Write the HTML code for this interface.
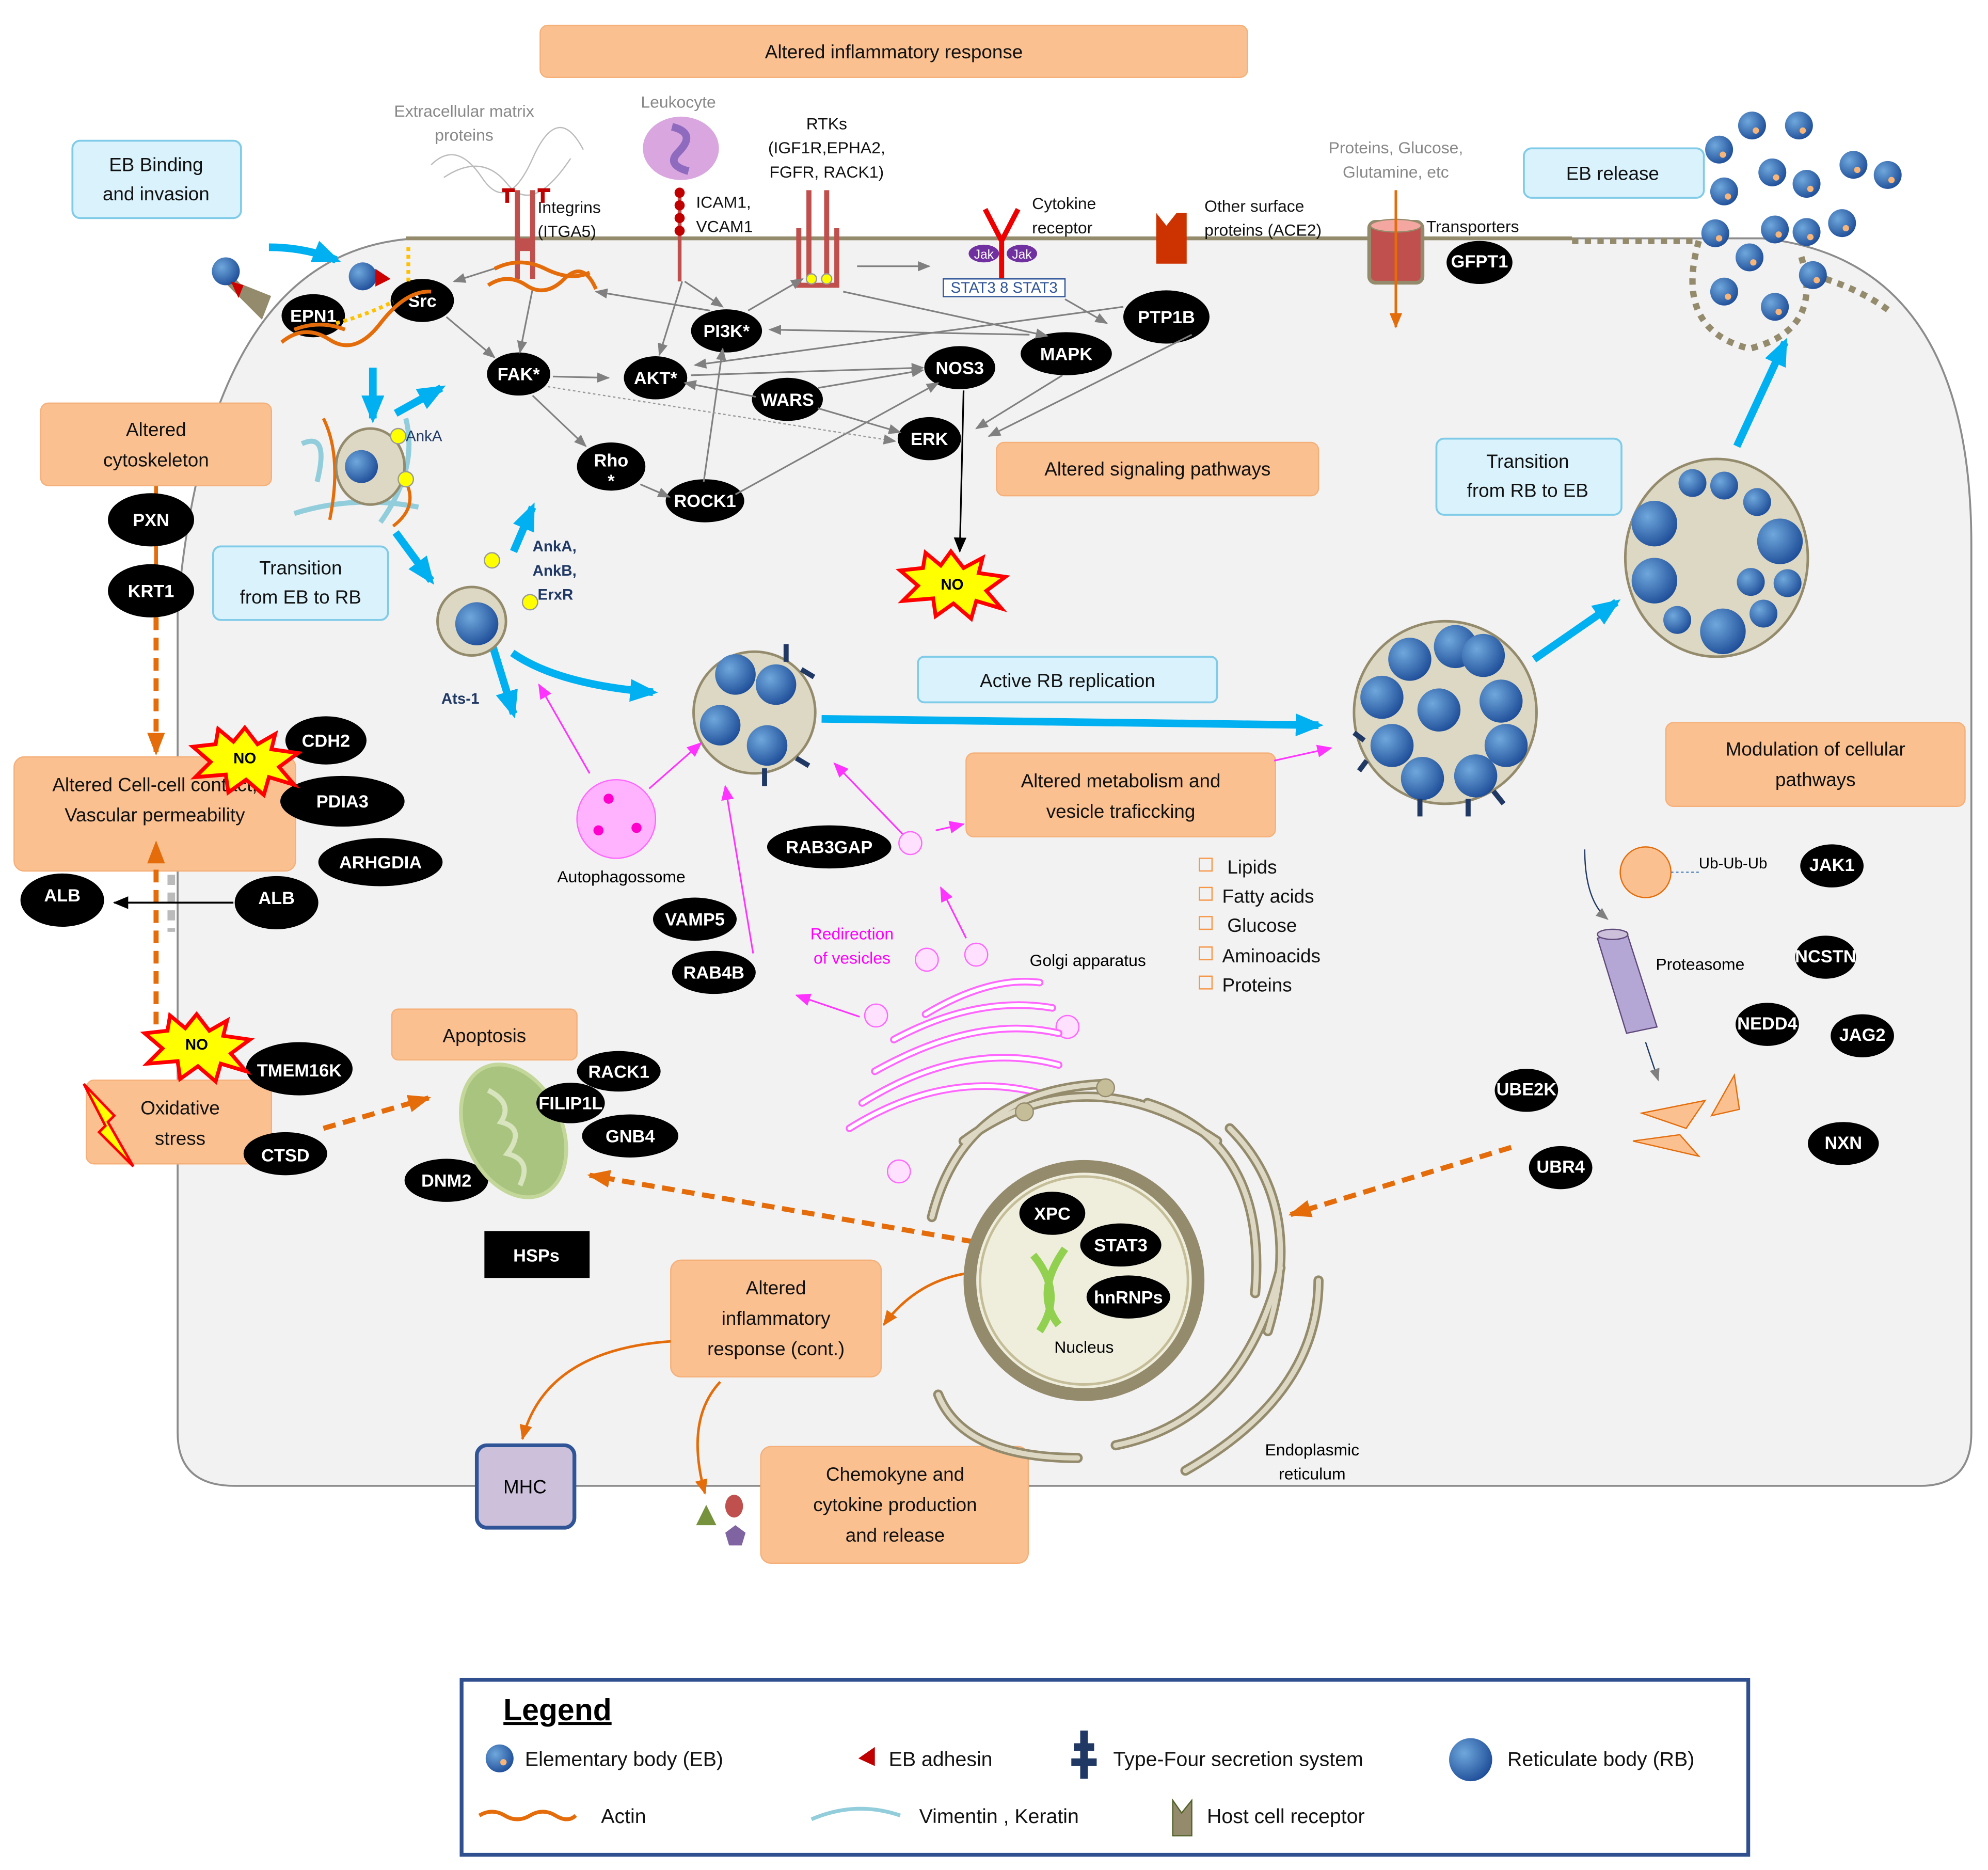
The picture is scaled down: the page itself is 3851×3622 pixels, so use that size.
<!DOCTYPE html>
<html><head><meta charset="utf-8"><style>
html,body{margin:0;padding:0;background:#fff}
svg{display:block}
text{font-family:"Liberation Sans",sans-serif}
.w{fill:#fff;font-weight:bold;font-size:14px;text-anchor:middle}
.o{fill:#fac090;stroke:#f5b07a;stroke-width:1}
.b{fill:#d9f2fb;stroke:#7fcbe8;stroke-width:1.5}
.t{font-size:15px;text-anchor:middle;fill:#111}
.g{stroke:#808080;stroke-width:1.3;fill:none;marker-end:url(#ag)}
.bl{stroke:#00b0f0;stroke-width:6;fill:none;marker-end:url(#ab)}
.pk{stroke:#ff33ff;stroke-width:1.3;fill:none;marker-end:url(#ap)}
.od{stroke:#e46c0a;stroke-width:4;fill:none;stroke-dasharray:10 6;marker-end:url(#ao)}
.or{stroke:#e46c0a;stroke-width:2;fill:none;marker-end:url(#ao2)}
</style></head><body>
<svg width="3851" height="3622" viewBox="0 0 1568 1475" xmlns="http://www.w3.org/2000/svg">
<defs>
<marker id="ag" markerWidth="10" markerHeight="8" refX="9" refY="4" orient="auto" markerUnits="userSpaceOnUse"><path d="M0,0L10,4L0,8z" fill="#808080"/></marker>
<marker id="ab" markerWidth="22" markerHeight="18" refX="18" refY="9" orient="auto" markerUnits="userSpaceOnUse"><path d="M0,0L22,9L0,18z" fill="#00b0f0"/></marker>
<marker id="ap" markerWidth="12" markerHeight="10" refX="11" refY="5" orient="auto" markerUnits="userSpaceOnUse"><path d="M0,0L12,5L0,10z" fill="#ff33ff"/></marker>
<marker id="ao" markerWidth="18" markerHeight="14" refX="16" refY="7" orient="auto" markerUnits="userSpaceOnUse"><path d="M0,0L18,7L0,14z" fill="#e46c0a"/></marker>
<marker id="ao2" markerWidth="12" markerHeight="10" refX="11" refY="5" orient="auto" markerUnits="userSpaceOnUse"><path d="M0,0L12,5L0,10z" fill="#e46c0a"/></marker>
<marker id="ak" markerWidth="12" markerHeight="10" refX="11" refY="5" orient="auto" markerUnits="userSpaceOnUse"><path d="M0,0L12,5L0,10z" fill="#000"/></marker>
<radialGradient id="rb" cx="35%" cy="35%" r="70%"><stop offset="0" stop-color="#6fa8dc"/><stop offset="1" stop-color="#1f4e99"/></radialGradient>
</defs>
<path d="M140,1130 Q140,1172 185,1172 L1515,1172 Q1555,1172 1555,1130 L1555,430 Q1555,205 1390,188 L330,188 Q165,195 140,480 Z" fill="#f2f2f2" stroke="#8c8c8c" stroke-width="1.5"/>
<line x1="320" y1="188" x2="1240" y2="188" stroke="#948a6c" stroke-width="3"/>
<rect class="o" x="426" y="20" width="558" height="41" rx="6"/>
<text class="t" x="705" y="46">Altered inflammatory  response</text>
<rect class="b" x="57" y="111" width="133" height="61" rx="6"/><text class="t" x="123" y="135">EB Binding</text><text class="t" x="123" y="158">and invasion</text>
<rect class="b" x="168" y="431" width="138" height="58" rx="6"/><text class="t" x="237" y="453">Transition</text><text class="t" x="237" y="476">from EB to RB</text>
<rect class="b" x="724" y="518" width="236" height="36" rx="5"/><text class="t" x="842" y="542">Active RB replication</text>
<rect class="b" x="1133" y="346" width="146" height="60" rx="6"/><text class="t" x="1205" y="369">Transition</text><text class="t" x="1205" y="392">from RB to EB</text>
<rect class="b" x="1202" y="117" width="142" height="39" rx="6"/><text class="t" x="1272" y="142">EB release</text>
<line x1="123" y1="383" x2="123" y2="487" stroke="#e46c0a" stroke-width="3"/>
<rect class="o" x="32" y="318" width="182" height="65" rx="6"/><text class="t" x="123" y="344">Altered</text><text class="t" x="123" y="368">cytoskeleton</text>
<rect class="o" x="11" y="597" width="222" height="90" rx="8"/><text class="t" x="122" y="624">Altered Cell-cell contact;</text><text class="t" x="122" y="648">Vascular  permeability</text>
<rect class="o" x="68" y="852" width="146" height="66" rx="6"/><text class="t" x="142" y="879">Oxidative</text><text class="t" x="142" y="903">stress</text>
<rect class="o" x="309" y="796" width="146" height="40" rx="5"/><text class="t" x="382" y="822">Apoptosis</text>
<rect class="o" x="786" y="349" width="254" height="42" rx="6"/><text class="t" x="913" y="375">Altered signaling  pathways</text>
<rect class="o" x="762" y="594" width="244" height="66" rx="6"/><text class="t" x="884" y="621">Altered metabolism and</text><text class="t" x="884" y="645">vesicle traficcking</text>
<rect class="o" x="1314" y="570" width="236" height="66" rx="6"/><text class="t" x="1432" y="596">Modulation  of cellular</text><text class="t" x="1432" y="620">pathways</text>
<rect class="o" x="529" y="994" width="166" height="92" rx="8"/><text class="t" x="612" y="1021">Altered</text><text class="t" x="612" y="1045">inflammatory</text><text class="t" x="612" y="1069">response (cont.)</text>
<rect class="o" x="600" y="1141" width="211" height="92" rx="8"/><text class="t" x="706" y="1168">Chemokyne and</text><text class="t" x="706" y="1192">cytokine production</text><text class="t" x="706" y="1216">and release</text>
<g font-size="13" text-anchor="middle" fill="#888"><text x="366" y="92">Extracellular matrix</text><text x="366" y="111">proteins</text><text x="535" y="85">Leukocyte</text><text x="1101" y="121">Proteins, Glucose,</text><text x="1101" y="140">Glutamine, etc</text></g>
<g font-size="13" fill="#111"><text x="424" y="168">Integrins</text><text x="424" y="187">(ITGA5)</text><text x="549" y="164">ICAM1,</text><text x="549" y="183">VCAM1</text>
<text x="652" y="102" text-anchor="middle">RTKs</text><text x="652" y="121" text-anchor="middle">(IGF1R,EPHA2,</text><text x="652" y="140" text-anchor="middle">FGFR, RACK1)</text>
<text x="814" y="165">Cytokine</text><text x="814" y="184">receptor</text><text x="950" y="167">Other surface</text><text x="950" y="186">proteins (ACE2)</text><text x="1125" y="183">Transporters</text></g>
<path d="M340,130 Q360,110 380,140 T420,125 T460,118 M350,140 Q380,120 400,145 T450,125" stroke="#bbb" fill="none"/>
<ellipse cx="537" cy="117" rx="30" ry="25" fill="#d9a6e0"/><path d="M530,100 q20,5 5,20 q-10,10 8,15" stroke="#8e6bbf" stroke-width="6" fill="none"/>
<path d="M400,150 v10 M396,150 h10 M424,150 h10 M428,150 v10" stroke="#c00000" stroke-width="3"/>
<rect x="406" y="150" width="4" height="70" fill="#c0504d"/><rect x="418" y="150" width="4" height="70" fill="#c0504d"/><rect x="406" y="188" width="16" height="10" fill="#c0504d"/>
<line x1="536" y1="150" x2="536" y2="222" stroke="#c0504d" stroke-width="3"/><g fill="#c00000"><circle cx="536" cy="152" r="4"/><circle cx="536" cy="162" r="4"/><circle cx="536" cy="172" r="4"/><circle cx="536" cy="182" r="4"/></g>
<path d="M638,150 v70 M652,150 v70 M630,180 v45 h30 v-45" stroke="#c0504d" stroke-width="4" fill="none"/><circle cx="640" cy="220" r="4" fill="#ffff00" stroke="#999"/><circle cx="652" cy="220" r="4" fill="#ffff00" stroke="#999"/>
<path d="M777,165 L790,190 L803,165 M790,190 V222" stroke="#e00" stroke-width="4" fill="none"/>
<ellipse cx="776" cy="200" rx="12" ry="7" fill="#7030a0"/><ellipse cx="806" cy="200" rx="12" ry="7" fill="#7030a0"/><text x="776" y="204" font-size="10" fill="#fff" text-anchor="middle">Jak</text><text x="806" y="204" font-size="10" fill="#fff" text-anchor="middle">Jak</text>
<rect x="744" y="220" width="96" height="14" fill="#fff" stroke="#2f5597"/><text x="792" y="231" font-size="12" fill="#2f5597" text-anchor="middle">STAT3 8 STAT3</text>
<path d="M912,168 l8,10 l8,-10 l8,0 v40 h-24 v-40z" fill="#cc3300"/>
<rect x="1080" y="175" width="42" height="48" rx="5" fill="#c0504d" stroke="#948a6c" stroke-width="3"/><ellipse cx="1101" cy="178" rx="20" ry="5" fill="#f4a7a0" stroke="#948a6c"/>
<line x1="1101" y1="150" x2="1101" y2="258" class="or"/>
<path d="M1240,190 H1340 M1340,190 Q1320,260 1380,275 Q1440,260 1420,200 M1440,220 Q1470,230 1490,245" stroke="#948a6c" stroke-width="5" stroke-dasharray="5 5" fill="none"/>
<g fill="url(#rb)"><circle cx="1382" cy="99" r="11"/><circle cx="1419" cy="99" r="11"/><circle cx="1356" cy="118" r="11"/><circle cx="1398" cy="136" r="11"/><circle cx="1425" cy="145" r="11"/><circle cx="1462" cy="130" r="11"/><circle cx="1489" cy="138" r="11"/><circle cx="1360" cy="151" r="11"/><circle cx="1353" cy="184" r="11"/><circle cx="1400" cy="181" r="11"/><circle cx="1425" cy="183" r="11"/><circle cx="1453" cy="176" r="11"/><circle cx="1380" cy="203" r="11"/><circle cx="1430" cy="217" r="11"/><circle cx="1360" cy="230" r="11"/><circle cx="1400" cy="242" r="11"/></g>
<g fill="#f7b57a"><circle cx="1385" cy="103" r="2.5"/><circle cx="1422" cy="103" r="2.5"/><circle cx="1359" cy="122" r="2.5"/><circle cx="1401" cy="140" r="2.5"/><circle cx="1428" cy="149" r="2.5"/><circle cx="1465" cy="134" r="2.5"/><circle cx="1492" cy="142" r="2.5"/><circle cx="1363" cy="155" r="2.5"/><circle cx="1356" cy="188" r="2.5"/><circle cx="1403" cy="185" r="2.5"/><circle cx="1428" cy="187" r="2.5"/><circle cx="1456" cy="180" r="2.5"/><circle cx="1383" cy="207" r="2.5"/><circle cx="1433" cy="221" r="2.5"/><circle cx="1363" cy="234" r="2.5"/><circle cx="1403" cy="246" r="2.5"/></g>
<g>
<ellipse cx="247" cy="249" rx="25" ry="17"/><text class="w" x="247" y="254">EPN1</text>
<ellipse cx="333" cy="237" rx="25" ry="17"/><text class="w" x="333" y="242">Src</text>
<ellipse cx="409" cy="295" rx="25" ry="17"/><text class="w" x="409" y="300">FAK*</text>
<ellipse cx="517" cy="298" rx="25" ry="17"/><text class="w" x="517" y="303">AKT*</text>
<ellipse cx="573" cy="261" rx="28" ry="17"/><text class="w" x="573" y="266">PI3K*</text>
<ellipse cx="621" cy="315" rx="28" ry="17"/><text class="w" x="621" y="320">WARS</text>
<ellipse cx="757" cy="290" rx="28" ry="17"/><text class="w" x="757" y="295">NOS3</text>
<ellipse cx="841" cy="279" rx="36" ry="17"/><text class="w" x="841" y="284">MAPK</text>
<ellipse cx="920" cy="250" rx="34" ry="21"/><text class="w" x="920" y="255">PTP1B</text>
<ellipse cx="733" cy="346" rx="25" ry="17"/><text class="w" x="733" y="351">ERK</text>
<ellipse cx="482" cy="368" rx="27" ry="19"/><text class="w" x="482" y="368">Rho</text><text class="w" x="482" y="384">*</text>
<ellipse cx="556" cy="395" rx="31" ry="17"/><text class="w" x="556" y="400">ROCK1</text>
<ellipse cx="119" cy="410" rx="34" ry="21"/><text class="w" x="119" y="415">PXN</text>
<ellipse cx="119" cy="466" rx="34" ry="21"/><text class="w" x="119" y="471">KRT1</text>
<ellipse cx="257" cy="584" rx="32" ry="19"/><text class="w" x="257" y="589">CDH2</text>
<ellipse cx="270" cy="632" rx="49" ry="20"/><text class="w" x="270" y="637">PDIA3</text>
<ellipse cx="300" cy="680" rx="49" ry="19"/><text class="w" x="300" y="685">ARHGDIA</text>
<ellipse cx="49" cy="710" rx="33" ry="21"/><text class="w" x="49" y="711">ALB</text>
<ellipse cx="218" cy="712" rx="33" ry="21"/><text class="w" x="218" y="713">ALB</text>
<ellipse cx="236" cy="843" rx="42" ry="21"/><text class="w" x="236" y="849">TMEM16K</text>
<ellipse cx="225" cy="910" rx="33" ry="17"/><text class="w" x="225" y="916">CTSD</text>
<ellipse cx="488" cy="845" rx="33" ry="16"/><text class="w" x="488" y="850">RACK1</text>
<ellipse cx="497" cy="896" rx="38" ry="17"/><text class="w" x="497" y="901">GNB4</text>
<ellipse cx="352" cy="931" rx="33" ry="17"/><text class="w" x="352" y="936">DNM2</text>
<rect x="382" y="971" width="83" height="37"/><text class="w" x="423" y="995">HSPs</text>
<ellipse cx="654" cy="668" rx="49" ry="17"/><text class="w" x="654" y="673">RAB3GAP</text>
<ellipse cx="548" cy="725" rx="33" ry="17"/><text class="w" x="548" y="730">VAMP5</text>
<ellipse cx="563" cy="767" rx="33" ry="17"/><text class="w" x="563" y="772">RAB4B</text>
<ellipse cx="1167" cy="207" rx="26" ry="17"/><text class="w" x="1167" y="211" font-size="12">GFPT1</text>
<ellipse cx="1445" cy="683" rx="25" ry="17"/><text class="w" x="1445" y="687" font-size="12">JAK1</text>
<ellipse cx="1440" cy="755" rx="24" ry="17"/><text class="w" x="1440" y="759" font-size="12">NCSTN</text>
<ellipse cx="1394" cy="808" rx="25" ry="17"/><text class="w" x="1394" y="812" font-size="12">NEDD4</text>
<ellipse cx="1469" cy="817" rx="25" ry="17"/><text class="w" x="1469" y="821" font-size="12">JAG2</text>
<ellipse cx="1204" cy="860" rx="25" ry="17"/><text class="w" x="1204" y="864" font-size="12">UBE2K</text>
<ellipse cx="1231" cy="921" rx="25" ry="17"/><text class="w" x="1231" y="925" font-size="12">UBR4</text>
<ellipse cx="1454" cy="902" rx="28" ry="17"/><text class="w" x="1454" y="906" font-size="12">NXN</text>
</g>
<path class="g" d="M352,250 L390,282"/><path class="g" d="M436,297 L480,298"/><path class="g" d="M420,312 L462,352"/><path class="g" d="M505,382 L528,392"/>
<path class="g" d="M590,245 L633,220"/><path class="g" d="M538,222 L520,280"/><path class="g" d="M540,222 L570,242"/><path class="g" d="M402,208 L358,222"/><path class="g" d="M420,228 L410,278"/>
<path class="g" d="M560,245 L470,230"/><path class="g" d="M665,230 L826,265"/><path class="g" d="M676,210 L733,210"/><path class="g" d="M840,236 L873,255"/>
<path class="g" d="M812,264 L607,260"/><path class="g" d="M886,242 L548,288"/><path class="g" d="M545,296 L728,290"/><path class="g" d="M596,313 L540,302"/><path class="g" d="M645,306 L728,292"/>
<path class="g" d="M645,322 L710,341"/><path class="g" d="M555,380 L570,275"/><path class="g" d="M580,390 L740,302"/><path class="g" d="M838,296 L770,338"/><path class="g" d="M940,264 L780,344"/>
<path d="M432,305 L706,348" stroke="#999" stroke-dasharray="2 2" fill="none" marker-end="url(#ag)"/>
<path d="M760,308 L757,435" stroke="#000" stroke-width="1.3" fill="none" marker-end="url(#ak)"/>
<g font-size="12" font-weight="bold" text-anchor="middle">
<polygon points="750,435 760,448 775,440 772,452 793,455 778,466 790,480 770,474 766,488 752,476 738,486 736,472 712,474 724,462 710,450 728,448 730,436 742,446" fill="#ffff00" stroke="#ff0000" stroke-width="3"/><text x="751" y="465">NO</text>
<polygon points="193,574 203,587 217,579 214,591 235,594 220,605 232,619 212,613 208,627 194,615 180,625 178,611 154,613 166,601 152,589 170,587 172,575 184,585" fill="#ffff00" stroke="#ff0000" stroke-width="3"/><text x="193" y="602">NO</text>
<polygon points="155,800 165,813 179,805 176,817 197,820 182,831 194,845 174,839 170,853 156,841 142,851 140,837 116,839 128,827 114,815 132,813 134,801 146,811" fill="#ffff00" stroke="#ff0000" stroke-width="3"/><text x="155" y="828">NO</text>
</g>
<polygon points="66,855 90,880 85,885 105,920 78,893 83,888" fill="#ff0" stroke="#f00" stroke-width="2"/>
<path class="od" d="M123,487 V594"/><path class="od" d="M123,808 V665"/>
<path d="M135,690 V735" stroke="#bbb" stroke-width="6" stroke-dasharray="8 6"/>
<path d="M184,712 L90,712" stroke="#000" stroke-width="1.5" marker-end="url(#ak)"/>
<path class="od" d="M255,890 L338,866"/><path class="od" d="M800,985 L465,927"/><path class="od" d="M1192,905 L1018,958"/>
<path class="or" d="M790,1003 Q730,1000 697,1045"/><path class="or" d="M529,1058 Q430,1065 412,1135"/><path class="or" d="M568,1090 Q540,1120 556,1178"/>
<path class="bl" d="M212,195 Q240,195 265,205"/><path class="bl" d="M294,290 L294,330"/><path class="bl" d="M312,326 L348,306"/><path class="bl" d="M312,420 L340,458"/>
<path class="bl" d="M405,435 L420,400"/><path class="bl" d="M384,495 L405,563"/><path class="bl" d="M404,515 Q440,540 515,546"/>
<path class="bl" d="M648,567 L1040,572"/><path class="bl" d="M1210,520 L1275,475"/><path class="bl" d="M1370,352 L1408,270"/>
<path d="M180,220 L205,245 L210,232" fill="#948a6c" stroke="#948a6c" stroke-width="8"/>
<circle cx="178" cy="214" r="11" fill="url(#rb)"/><polygon points="182,222 192,225 188,235" fill="#c00"/>
<circle cx="286" cy="218" r="11" fill="url(#rb)"/><polygon points="296,212 308,220 296,226" fill="#c00"/>
<path d="M222,270 Q240,255 260,268 T300,255 T340,230 M232,260 q20,-8 40,0 M385,225 Q400,215 415,225 T445,220 T470,228 M390,212 q20,-10 40,0 T465,215" stroke="#e46c0a" stroke-width="3" fill="none"/>
<path d="M265,255 Q290,248 310,238 M322,195 V225" stroke="#ffc000" stroke-width="3" stroke-dasharray="3 3" fill="none"/>
<path d="M238,350 Q260,340 250,380 M232,405 Q280,390 330,400 M320,330 Q330,370 300,412" stroke="#92cddc" stroke-width="4" fill="none"/>
<path d="M255,330 Q270,360 260,410 M320,380 Q330,400 310,415" stroke="#e46c0a" stroke-width="2.5" fill="none"/>
<ellipse cx="292" cy="368" rx="27" ry="30" fill="#ddd8c3" stroke="#948a6c" stroke-width="2"/><circle cx="285" cy="368" r="13" fill="url(#rb)"/>
<circle cx="314" cy="344" r="6" fill="#ff0" stroke="#999"/><circle cx="320" cy="378" r="6" fill="#ff0" stroke="#999"/><text x="320" y="348" font-size="12" fill="#1f3864">AnkA</text>
<circle cx="372" cy="490" r="27" fill="#ddd8c3" stroke="#948a6c" stroke-width="2"/><circle cx="376" cy="492" r="17" fill="url(#rb)"/>
<circle cx="388" cy="442" r="6" fill="#ff0" stroke="#999"/><circle cx="418" cy="475" r="6" fill="#ff0" stroke="#999"/>
<g font-size="12" fill="#1f3864" font-weight="bold"><text x="420" y="435">AnkA,</text><text x="420" y="454">AnkB,</text><text x="424" y="473">ErxR</text><text x="348" y="555">Ats-1</text></g>
<circle cx="595" cy="562" r="48" fill="#ddd8c3" stroke="#948a6c" stroke-width="2"/>
<g fill="url(#rb)"><circle cx="580" cy="532" r="16"/><circle cx="612" cy="540" r="16"/><circle cx="568" cy="572" r="16"/><circle cx="605" cy="588" r="16"/></g>
<g stroke="#1f3864" stroke-width="4"><path d="M620,508 v14 M632,528 l10,6 M628,598 l10,6 M603,606 v14"/></g>
<circle cx="1140" cy="562" r="72" fill="#ddd8c3" stroke="#948a6c" stroke-width="2"/>
<g fill="url(#rb)"><circle cx="1112" cy="520" r="17"/><circle cx="1148" cy="510" r="17"/><circle cx="1170" cy="517" r="17"/><circle cx="1090" cy="550" r="17"/><circle cx="1135" cy="560" r="17"/><circle cx="1184" cy="553" r="17"/><circle cx="1098" cy="588" r="17"/><circle cx="1188" cy="588" r="17"/><circle cx="1122" cy="614" r="17"/><circle cx="1164" cy="612" r="17"/></g>
<g stroke="#1f3864" stroke-width="4"><path d="M1068,578 l8,6 M1078,600 l-6,8 M1120,630 v14 M1158,630 v14 M1178,624 l8,10"/></g>
<ellipse cx="1354" cy="440" rx="72" ry="78" fill="#ddd8c3" stroke="#948a6c" stroke-width="2"/>
<g fill="url(#rb)"><circle cx="1305" cy="413" r="18"/><circle cx="1404" cy="427" r="18"/><circle cx="1305" cy="458" r="18"/><circle cx="1359" cy="498" r="18"/><circle cx="1335" cy="381" r="11"/><circle cx="1360" cy="383" r="11"/><circle cx="1386" cy="396" r="11"/><circle cx="1381" cy="459" r="11"/><circle cx="1410" cy="460" r="11"/><circle cx="1323" cy="489" r="11"/><circle cx="1391" cy="484" r="11"/></g>
<circle cx="486" cy="646" r="31" fill="#ffb3ff" stroke="#ff66ff"/><g fill="#ff00cc"><circle cx="480" cy="630" r="4"/><circle cx="472" cy="655" r="4"/><circle cx="502" cy="653" r="4"/></g>
<text x="490" y="696" font-size="13" text-anchor="middle">Autophagossome</text>
<path class="pk" d="M465,610 L425,540"/><path class="pk" d="M512,622 L553,586"/><path class="pk" d="M594,752 L572,620"/><path class="pk" d="M712,658 L658,602"/><path class="pk" d="M738,655 L760,650"/><path class="pk" d="M1005,600 L1050,590"/><path class="pk" d="M678,802 L628,785"/><path class="pk" d="M762,740 L742,700"/>
<g fill="#ffe0ff" stroke="#ff66ff"><circle cx="718" cy="665" r="9"/><circle cx="731" cy="757" r="9"/><circle cx="770" cy="753" r="9"/><circle cx="691" cy="801" r="9"/><circle cx="842" cy="810" r="9"/><circle cx="709" cy="924" r="9"/></g>
<text x="672" y="741" font-size="13" fill="#ff00ff" text-anchor="middle">Redirection</text><text x="672" y="760" font-size="13" fill="#ff00ff" text-anchor="middle">of vesicles</text>
<text x="858" y="762" font-size="13" text-anchor="middle">Golgi apparatus</text>
<g stroke="#ff66ff" fill="none" stroke-width="6" stroke-linecap="round"><path d="M730,800 Q780,770 820,775" /><path d="M705,820 Q770,785 830,795"/><path d="M690,845 Q770,800 835,815"/><path d="M680,870 Q760,820 835,840"/><path d="M670,890 Q750,840 830,865"/></g>
<g stroke="#fff" fill="none" stroke-width="3" stroke-linecap="round"><path d="M730,800 Q780,770 820,775" /><path d="M705,820 Q770,785 830,795"/><path d="M690,845 Q770,800 835,815"/><path d="M680,870 Q760,820 835,840"/><path d="M670,890 Q750,840 830,865"/></g>
<g font-size="15" fill="#111"><text x="968" y="689">Lipids</text><text x="964" y="712">Fatty acids</text><text x="968" y="735">Glucose</text><text x="964" y="759">Aminoacids</text><text x="964" y="782">Proteins</text></g>
<g fill="none" stroke="#f79646"><rect x="946" y="677" width="10" height="10"/><rect x="946" y="700" width="10" height="10"/><rect x="946" y="723" width="10" height="10"/><rect x="946" y="747" width="10" height="10"/><rect x="946" y="770" width="10" height="10"/></g>
<g stroke="#948a6c" stroke-width="8" fill="none" stroke-linecap="round"><path d="M760,900 Q855,830 960,900"/><path d="M735,960 Q760,860 870,855"/><path d="M905,870 Q1000,900 990,1020"/><path d="M740,1100 Q760,1150 850,1150"/><path d="M880,1140 Q980,1120 1010,1000"/><path d="M935,1160 Q1040,1100 1040,1010"/><path d="M970,890 Q1030,950 1000,1050"/></g>
<g stroke="#ddd8c3" stroke-width="4" fill="none" stroke-linecap="round"><path d="M760,900 Q855,830 960,900"/><path d="M735,960 Q760,860 870,855"/><path d="M905,870 Q1000,900 990,1020"/><path d="M740,1100 Q760,1150 850,1150"/><path d="M880,1140 Q980,1120 1010,1000"/><path d="M935,1160 Q1040,1100 1040,1010"/><path d="M970,890 Q1030,950 1000,1050"/></g>
<circle cx="855" cy="1010" r="90" fill="#efeedd" stroke="#948a6c" stroke-width="10"/>
<circle cx="855" cy="1010" r="82" fill="none" stroke="#c4bd97" stroke-width="2"/>
<circle cx="808" cy="877" r="7" fill="#c4bd97" stroke="#948a6c"/><circle cx="872" cy="858" r="7" fill="#c4bd97" stroke="#948a6c"/>
<path d="M815,990 Q840,1020 820,1050 M840,985 Q815,1020 835,1045" stroke="#92d050" stroke-width="6" fill="none"/>
<ellipse cx="830" cy="957" rx="26" ry="17"/><text class="w" x="830" y="962">XPC</text>
<ellipse cx="884" cy="982" rx="32" ry="17"/><text class="w" x="884" y="987">STAT3</text>
<ellipse cx="890" cy="1023" rx="33" ry="17"/><text class="w" x="890" y="1028">hnRNPs</text>
<text x="855" y="1067" font-size="13" text-anchor="middle">Nucleus</text>
<text x="1035" y="1148" font-size="13" text-anchor="middle">Endoplasmic</text><text x="1035" y="1167" font-size="13" text-anchor="middle">reticulum</text>
<ellipse cx="405" cy="892" rx="38" ry="55" transform="rotate(-25 405 892)" fill="#a9c47f" stroke="#c4d79b" stroke-width="3"/>
<path d="M385,860 q20,10 10,25 q20,5 5,25 q20,5 10,25" stroke="#d7e4bd" stroke-width="4" fill="none"/>
<ellipse cx="450" cy="870" rx="27" ry="16"/><text class="w" x="450" y="875" font-size="12">FILIP1L</text>
<rect x="376" y="1140" width="77" height="65" rx="8" fill="#ccc0da" stroke="#2f5597" stroke-width="3"/><text x="414" y="1178" font-size="15" text-anchor="middle">MHC</text>
<polygon points="557,1187 549,1203 565,1203" fill="#76923c"/><ellipse cx="579" cy="1188" rx="7" ry="9" fill="#c0504d"/><polygon points="580,1203 588,1209 585,1219 575,1219 572,1209" fill="#8064a2"/>
<path d="M1250,670 Q1250,710 1268,725" stroke="#1f3864" fill="none" marker-end="url(#ag)"/>
<circle cx="1298" cy="688" r="20" fill="#fac090" stroke="#e46c0a"/><path d="M1318,688 H1340" stroke="#4f81bd" stroke-dasharray="2 2"/><text x="1340" y="685" font-size="12">Ub-Ub-Ub</text>
<path d="M1260,740 L1283,735 L1307,810 L1283,815 Z" fill="#b4a7d6" stroke="#5f497a"/><ellipse cx="1272" cy="737" rx="12" ry="4" fill="#ccc0da" stroke="#5f497a"/>
<text x="1306" y="765" font-size="13">Proteasome</text>
<path d="M1298,822 L1308,852" stroke="#1f3864" fill="none" marker-end="url(#ag)"/>
<path d="M1295,878 L1345,868 L1330,890 Z M1288,900 L1325,895 L1340,912 Z M1350,880 L1368,848 L1372,875 Z" fill="#fac090" stroke="#e46c0a"/>
<rect x="364" y="1325" width="1015" height="138" fill="#fff" stroke="#2f4f8f" stroke-width="3"/>
<text x="397" y="1357" font-size="24" font-weight="bold" text-decoration="underline">Legend</text>
<circle cx="394" cy="1387" r="11" fill="url(#rb)"/><circle cx="397" cy="1390" r="2.5" fill="#f7b57a"/>
<g font-size="16" fill="#111"><text x="414" y="1393">Elementary body (EB)</text><text x="701" y="1393">EB adhesin</text><text x="878" y="1393">Type-Four secretion system</text><text x="1189" y="1393">Reticulate body (RB)</text>
<text x="474" y="1438">Actin</text><text x="725" y="1438">Vimentin , Keratin</text><text x="952" y="1438">Host cell receptor</text></g>
<polygon points="677,1387 690,1378 690,1393" fill="#c00000"/>
<path d="M855,1365 v38 M847,1378 h16 M845,1390 h20" stroke="#1f3864" stroke-width="6"/>
<circle cx="1160" cy="1388" r="17" fill="url(#rb)"/>
<path d="M378,1432 q10,-6 20,0 t20,0 t20,0 t16,0" stroke="#e46c0a" stroke-width="3" fill="none"/>
<path d="M640,1435 Q675,1420 710,1432" stroke="#92cddc" stroke-width="3" fill="none"/>
<path d="M925,1420 L932,1430 L940,1420 V1448 H925 Z" fill="#948a6c" stroke="#4f6228"/>
</svg>
</body></html>
